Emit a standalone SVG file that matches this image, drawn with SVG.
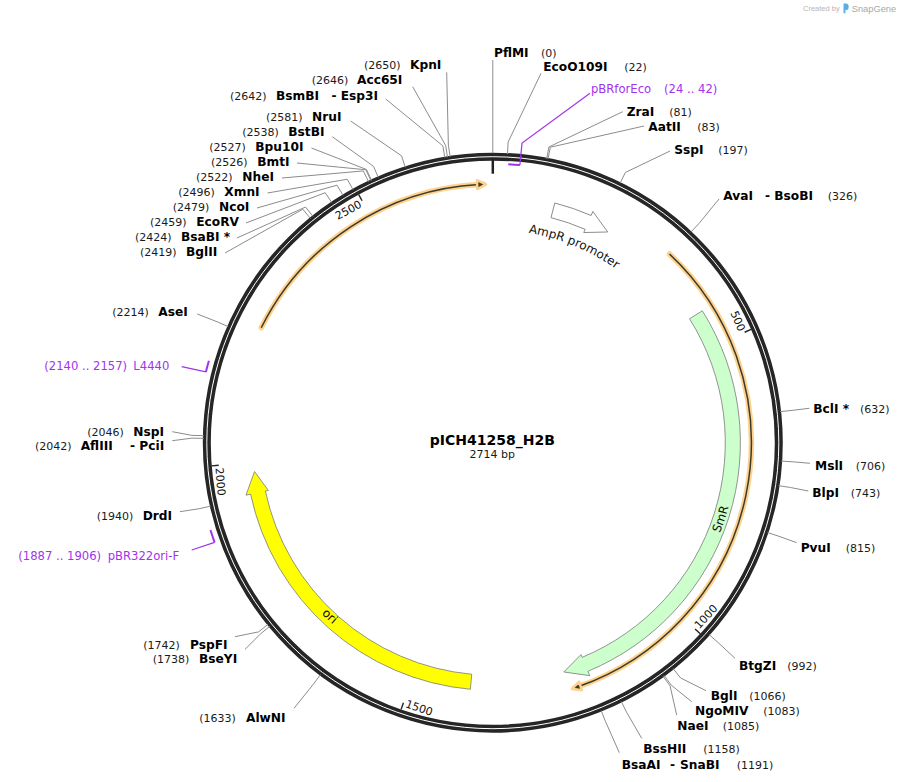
<svg xmlns="http://www.w3.org/2000/svg" width="900" height="782" viewBox="0 0 900 782">
<style>
.n{font-family:"DejaVu Sans",sans-serif;font-size:12.2px;font-weight:bold;fill:#000}
.p{font-family:"DejaVu Sans",sans-serif;font-size:11px;fill:#1a1a1a}
.pr{font-family:"DejaVu Sans",sans-serif;font-size:11.6px;fill:#a033ee}
.c{fill:none;stroke:#8c8c8c;stroke-width:1}
.cp{fill:none;stroke:#a033ee;stroke-width:1.2}
.pa{fill:none;stroke:#a033ee;stroke-width:2}
.tk{stroke:#222;stroke-width:1.4}
.tl{font-family:"DejaVu Sans",sans-serif;font-size:11px;fill:#111}
.fl{font-family:"DejaVu Sans",sans-serif;font-size:12px;fill:#111}
.halo{fill:none;stroke:#fdd28c;stroke-width:5.5;stroke-linecap:round}
.dk{fill:none;stroke:#3f3a2e;stroke-width:1.5}
.ah{fill:#3f3a2e;stroke:#fdd28c;stroke-width:2.5;stroke-linejoin:round}
</style>
<defs>
<path id="tpAmp" d="M 18.56 -212.19 A 213 213 0 0 1 136.91 -163.17"/>
<path id="tpSmR" d="M 191.27 152.14 A 244.4 244.4 0 0 0 244.32 -6.40"/>
<path id="tpOri" d="M -216.01 109.11 A 242 242 0 0 0 -95.33 222.43"/>
</defs>
<rect width="900" height="782" fill="#fff"/>

<g id="map" transform="translate(492.8 442.7)">
  <g id="orange-arc-top">
    <path class="halo" d="M -231.54 -114.94 A 258.5 258.5 0 0 1 -9.47 -258.33"/>
    <path class="dk" d="M -231.54 -114.94 A 258.5 258.5 0 0 1 -13.98 -258.12"/>
    <polygon class="ah" transform="rotate(358.3)" points="1,-258.5 -8,-263 -8,-254"/>
  </g>
  <g id="orange-arc-right">
    <path class="halo" d="M 176.66 -188.72 A 258.5 258.5 0 0 1 82.02 245.14"/>
    <path class="dk" d="M 176.66 -188.72 A 258.5 258.5 0 0 1 85.86 243.82"/>
    <polygon class="ah" transform="rotate(161.96)" points="1,-258.5 -8,-263 -8,-254"/>
  </g>
  <g id="AmpR-promoter">
    <path d="M 61.99 -239.71 A 247.6 247.6 0 0 1 98.33 -227.23 L 100.08 -231.27 L 114.89 -210.72 L 90.95 -210.16 L 92.34 -213.38 A 232.5 232.5 0 0 0 58.21 -225.09 Z" fill="#fff" stroke="#707070" stroke-width="0.8"/>
    <text class="fl"><textPath href="#tpAmp" startOffset="50%" text-anchor="middle">AmpR promoter</textPath></text>
  </g>
  <g id="SmR">
    <path d="M 209.52 -131.92 A 247.6 247.6 0 0 1 95.15 228.59 L 96.96 232.93 L 70.97 229.27 L 88.20 211.88 L 89.35 214.65 A 232.5 232.5 0 0 0 196.74 -123.88 Z" fill="#ccffcc" stroke="#7a7a7a" stroke-width="0.8"/>
    <text class="fl"><textPath href="#tpSmR" startOffset="50%" text-anchor="middle">SmR</textPath></text>
  </g>
  <g id="ori">
    <path d="M -22.44 246.58 A 247.6 247.6 0 0 1 -242.19 51.48 L -246.79 52.46 L -238.26 28.83 L -224.49 47.72 L -227.42 48.34 A 232.5 232.5 0 0 0 -21.07 231.54 Z" fill="#ffff00" stroke="#7a7a7a" stroke-width="0.8"/>
    <text class="fl"><textPath href="#tpOri" startOffset="50%" text-anchor="middle">ori</textPath></text>
  </g>
  <g id="backbone">
    <circle r="286" fill="none" stroke="#262626" stroke-width="8"/>
    <circle r="286" fill="none" stroke="#fff" stroke-width="1"/>
    <line x1="0" y1="-283" x2="0" y2="-269" stroke="#222" stroke-width="2.5"/>
    <g transform="rotate(66.323)"><line class="tk" x1="0" y1="-282" x2="0" y2="-275"/><text class="tl" x="-2.5" y="-269.5" text-anchor="end">500</text></g>
    <g transform="rotate(331.614)"><line class="tk" x1="0" y1="-282" x2="0" y2="-275"/><text class="tl" x="-2.5" y="-269.5" text-anchor="end">2500</text></g>
    <g transform="rotate(132.646)"><line class="tk" x1="0" y1="-282" x2="0" y2="-275"/><text class="tl" transform="translate(-2.5 -278.5) rotate(180)">1000</text></g>
    <g transform="rotate(198.968)"><line class="tk" x1="0" y1="-282" x2="0" y2="-275"/><text class="tl" transform="translate(-2.5 -278.5) rotate(180)">1500</text></g>
    <g transform="rotate(265.291)"><line class="tk" x1="0" y1="-282" x2="0" y2="-275"/><text class="tl" transform="translate(-2.5 -278.5) rotate(180)">2000</text></g>
  </g>
</g>

<g id="connectors">
  <polyline class="c" points="446.7,72.3 448.36,145.0 450.13,156.87"/>
  <polyline class="c" points="412.7,86.7 445.62,145.42 447.5,157.27"/>
  <polyline class="c" points="385.7,99 442.86,145.87 444.85,157.71"/>
  <polyline class="c" points="350.7,121 401.58,155.85 405.22,167.29"/>
  <polyline class="c" points="332.3,136.7 373.5,166.35 378.25,177.37"/>
  <polyline class="c" points="311.5,148 366.49,169.49 371.52,180.38"/>
  <polyline class="c" points="297,163 365.87,169.77 370.93,180.65"/>
  <polyline class="c" points="282,178 363.35,170.96 368.52,181.79"/>
  <polyline class="c" points="267.5,193 347.24,179.24 353.04,189.74"/>
  <polyline class="c" points="257,208 336.97,185.18 343.18,195.44"/>
  <polyline class="c" points="246,223 325.19,192.69 331.87,202.65"/>
  <polyline class="c" points="237,238 305.54,207.04 313.01,216.43"/>
  <polyline class="c" points="225,253 302.84,209.21 310.41,218.52"/>
  <polyline class="c" points="492.8,60 492.8,153.2"/>
  <polyline class="c" points="541,73.3 508.12,142.09 507.51,154.08"/>
  <polyline class="c" points="622.7,111.7 548.91,146.98 546.67,158.77"/>
  <polyline class="c" points="644,126 550.28,147.24 547.99,159.02"/>
  <polyline class="c" points="670,151 625.36,172.46 620.08,183.24"/>
  <polyline class="c" points="719,199 699.02,223.44 690.79,232.18"/>
  <polyline class="c" points="809.3,408.3 792.06,410.36 780.13,411.65"/>
  <polyline class="c" points="810,463.3 793.19,461.85 781.21,461.09"/>
  <polyline class="c" points="808.3,491 790.45,487.49 778.6,485.7"/>
  <polyline class="c" points="796.7,542.7 778.89,536.25 767.48,532.52"/>
  <polyline class="c" points="735,658.3 717.96,642.46 708.98,634.5"/>
  <polyline class="c" points="706,690.7 680.59,677.94 673.1,668.56"/>
  <polyline class="c" points="691.7,701.7 671.22,685.13 664.1,675.46"/>
  <polyline class="c" points="676.7,715 670.09,685.95 663.02,676.25"/>
  <polyline class="c" points="641.7,738.3 626.62,712.31 621.29,701.57"/>
  <polyline class="c" points="619.3,752.7 605.63,721.75 601.13,710.63"/>
  <polyline class="c" points="235,636.7 258.67,631.85 268.0,624.31"/>
  <polyline class="c" points="245,649.3 260.42,634.01 269.69,626.39"/>
  <polyline class="c" points="294,708.3 313.28,684.31 320.44,674.68"/>
  <polyline class="c" points="180,511.7 199.13,508.73 210.84,506.1"/>
  <polyline class="c" points="172.3,431.7 191.89,435.38 203.89,435.67"/>
  <polyline class="c" points="172.3,440.7 191.83,438.17 203.83,438.35"/>
  <polyline class="c" points="197.3,314 217.15,321.81 228.14,326.63"/>
  <polyline class="cp" points="590,93.3 522.02,143.12 519.89,165.02"/>
  <polyline class="cp" points="181.7,366.7 205.9,371.9"/>
  <polyline class="cp" points="191.7,550 214.6,542.31"/>
</g>

<g id="pBRforEco">
  <path class="pa" d="M 508.29 164.13 A 279 279 0 0 1 519.89 165.02"/>
  <text class="pr" x="591" y="93">pBRforEco</text><text class="pr" x="664" y="93">(24 .. 42)</text>
</g>
<g id="L4440">
  <path class="pa" d="M 205.9 371.9 A 295.5 295.5 0 0 1 208.91 360.67"/>
  <text class="pr" x="44.3" y="370">(2140 .. 2157)</text><text class="pr" x="133.3" y="370">L4440</text>
</g>
<g id="pBR322ori-F">
  <path class="pa" d="M 214.6 542.31 A 295.5 295.5 0 0 1 210.48 529.96"/>
  <text class="pr" x="18.3" y="559.5">(1887 .. 1906)</text><text class="pr" x="107.7" y="559.5">pBR322ori-F</text>
</g>

<g id="KpnI"><text class="p" x="364" y="69">(2650)</text><text class="n" x="410" y="69">KpnI</text></g>
<g id="Acc65I"><text class="p" x="311.7" y="84">(2646)</text><text class="n" x="357" y="84">Acc65I</text></g>
<g id="BsmBI-Esp3I"><text class="p" x="230" y="100">(2642)</text><text class="n" x="276" y="100">BsmBI</text><text class="n" x="331.5" y="100">-</text><text class="n" x="340.7" y="100">Esp3I</text></g>
<g id="NruI"><text class="p" x="266" y="121">(2581)</text><text class="n" x="312" y="121">NruI</text></g>
<g id="BstBI"><text class="p" x="242.3" y="136">(2538)</text><text class="n" x="288.3" y="136">BstBI</text></g>
<g id="Bpu10I"><text class="p" x="209.3" y="151">(2527)</text><text class="n" x="255.3" y="151">Bpu10I</text></g>
<g id="BmtI"><text class="p" x="211" y="166">(2526)</text><text class="n" x="257.3" y="166">BmtI</text></g>
<g id="NheI"><text class="p" x="196" y="181">(2522)</text><text class="n" x="242.3" y="181">NheI</text></g>
<g id="XmnI"><text class="p" x="178.3" y="196">(2496)</text><text class="n" x="224.3" y="196">XmnI</text></g>
<g id="NcoI"><text class="p" x="172.7" y="211">(2479)</text><text class="n" x="219" y="211">NcoI</text></g>
<g id="EcoRV"><text class="p" x="150" y="226">(2459)</text><text class="n" x="196.3" y="226">EcoRV</text></g>
<g id="BsaBI"><text class="p" x="135" y="241">(2424)</text><text class="n" x="181" y="241">BsaBI *</text></g>
<g id="BglII"><text class="p" x="140" y="256">(2419)</text><text class="n" x="186" y="256">BglII</text></g>

<g id="PflMI"><text class="n" x="494" y="57">PflMI</text><text class="p" x="541" y="57">(0)</text></g>
<g id="EcoO109I"><text class="n" x="543.3" y="71">EcoO109I</text><text class="p" x="624.3" y="71">(22)</text></g>
<g id="ZraI"><text class="n" x="626.7" y="116">ZraI</text><text class="p" x="669.3" y="116">(81)</text></g>
<g id="AatII"><text class="n" x="648.3" y="131">AatII</text><text class="p" x="697.3" y="131">(83)</text></g>
<g id="SspI"><text class="n" x="674.3" y="153.5">SspI</text><text class="p" x="718.3" y="153.5">(197)</text></g>
<g id="AvaI-BsoBI"><text class="n" x="723.3" y="200">AvaI</text><text class="n" x="765" y="200">-</text><text class="n" x="774.3" y="200">BsoBI</text><text class="p" x="827.7" y="200">(326)</text></g>
<g id="BclI"><text class="n" x="813.3" y="413.3">BclI *</text><text class="p" x="860" y="413.3">(632)</text></g>
<g id="MslI"><text class="n" x="815" y="469.5">MslI</text><text class="p" x="855.7" y="469.5">(706)</text></g>
<g id="BlpI"><text class="n" x="812.3" y="497.3">BlpI</text><text class="p" x="850.7" y="497.3">(743)</text></g>
<g id="PvuI"><text class="n" x="800.7" y="551.7">PvuI</text><text class="p" x="845.7" y="551.7">(815)</text></g>
<g id="BtgZI"><text class="n" x="739" y="670">BtgZI</text><text class="p" x="787.3" y="670">(992)</text></g>
<g id="BglI"><text class="n" x="710.7" y="700">BglI</text><text class="p" x="749.3" y="700">(1066)</text></g>
<g id="NgoMIV"><text class="n" x="695" y="715">NgoMIV</text><text class="p" x="763.3" y="715">(1083)</text></g>
<g id="NaeI"><text class="n" x="677.3" y="730">NaeI</text><text class="p" x="722.7" y="730">(1085)</text></g>
<g id="BssHII"><text class="n" x="643.3" y="752.7">BssHII</text><text class="p" x="703.3" y="752.7">(1158)</text></g>
<g id="BsaAI-SnaBI"><text class="n" x="621.7" y="769.3">BsaAI</text><text class="n" x="670" y="769.3">-</text><text class="n" x="680" y="769.3">SnaBI</text><text class="p" x="736.7" y="769.3">(1191)</text></g>

<g id="PspFI"><text class="p" x="143.3" y="649.3">(1742)</text><text class="n" x="190" y="649.3">PspFI</text></g>
<g id="BseYI"><text class="p" x="152.7" y="662.7">(1738)</text><text class="n" x="199" y="662.7">BseYI</text></g>
<g id="AlwNI"><text class="p" x="199.3" y="721.7">(1633)</text><text class="n" x="246" y="721.7">AlwNI</text></g>
<g id="DrdI"><text class="p" x="96.7" y="520">(1940)</text><text class="n" x="142.7" y="520">DrdI</text></g>
<g id="NspI"><text class="p" x="87.3" y="435.7">(2046)</text><text class="n" x="133.3" y="435.7">NspI</text></g>
<g id="AflIII-PciI"><text class="p" x="35" y="450">(2042)</text><text class="n" x="80.7" y="450">AflIII</text><text class="n" x="130" y="450">-</text><text class="n" x="139.3" y="450">PciI</text></g>
<g id="AseI"><text class="p" x="112.3" y="316">(2214)</text><text class="n" x="158.3" y="316">AseI</text></g>

<g id="title">
  <text x="492.3" y="445" text-anchor="middle" font-family="DejaVu Sans, sans-serif" font-size="14" font-weight="bold" fill="#000">pICH41258_H2B</text>
  <text x="492.3" y="458" text-anchor="middle" font-family="DejaVu Sans, sans-serif" font-size="11" fill="#1a1a1a">2714 bp</text>
</g>

<g id="credit">
  <text x="803" y="11" font-family="Liberation Sans, Arial, sans-serif" font-size="7.5" fill="#b5b5b5">Created by</text>
  <path d="M843.5 3.5 h2.5 a2.6 2.6 0 0 1 2.6 2.6 v1.3 a2.6 2.6 0 0 1 -2.6 2.6 h-0.6 v3.2 h-1.9 z" fill="#5aaee8"/>
  <text x="851.7" y="11.5" font-family="Liberation Sans, Arial, sans-serif" font-size="9.3" fill="#a8a8a8">SnapGene</text>
</g>
</svg>
